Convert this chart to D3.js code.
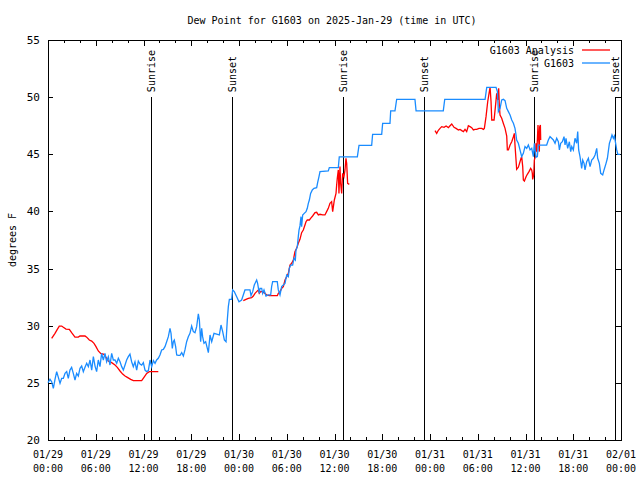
<!DOCTYPE html>
<html><head><meta charset="utf-8">
<script src="https://cdn.jsdelivr.net/npm/d3@7"></script>
<style>
body{margin:0;background:#fff}
svg text{font-family:"DejaVu Sans Mono","Liberation Mono",monospace;font-size:10px;fill:#000}
</style>
</head><body>
<svg id="chart" width="640" height="480"></svg>
<script>
// ---- data (hours after 2025-01-29 00:00 UTC) ----
const startUTC = Date.UTC(2025, 0, 29, 0, 0);
const chartTitle = "Dew Point for G1603 on 2025-Jan-29 (time in UTC)";
const yTitle = "degrees F";
const seriesNames = ["G1603 Analysis", "G1603"];
const yTickValues = [20, 25, 30, 35, 40, 45, 50, 55];

const obsHours = [0,0.25,0.46,0.67,0.88,1.09,1.30,1.51,1.72,1.93,2.14,2.35,2.55,2.76,2.97,3.18,3.39,3.60,3.81,4.02,4.23,4.44,4.65,4.86,5.07,5.28,5.49,5.70,5.91,6.11,6.32,6.53,6.74,6.95,7.16,7.37,7.58,7.79,8.00,8.21,8.42,8.63,8.84,9.05,9.26,9.47,9.68,9.88,10.09,10.30,10.51,10.72,10.93,11.14,11.35,11.56,11.77,11.98,12.19,12.40,12.61,12.82,13.03,13.24,13.45,13.65,
13.86,14.07,14.28,14.49,14.70,14.91,15.12,15.33,15.46,15.62,15.75,15.87,16.04,16.17,16.38,16.59,16.80,17.01,17.21,17.42,17.63,17.84,18.05,18.26,18.47,18.68,18.89,19.02,19.18,19.31,19.43,19.60,19.81,20.02,20.15,20.36,20.57,20.69,20.86,21.19,21.53,21.74,21.95,22.16,22.37,22.53,22.66,22.79,23.08,23.20,23.41,23.71,24.00,
24.33,24.54,24.75,25.17,25.38,25.51,25.72,25.92,26.22,26.34,26.55,26.64,26.85,26.97,27.14,27.39,27.68,27.98,28.10,28.23,28.52,28.81,28.94,29.15,29.36,29.57,29.78,29.99,30.20,30.32,30.49,30.74,30.91,31.08,31.16,31.33,31.45,31.54,31.66,31.79,31.87,32.00,32.20,32.42,32.58,32.71,32.84,33.00,33.21,33.42,33.76,33.88,34.05,34.18,
35.22,35.35,36.48,36.60,38.87,39.08,40.67,40.79,41.93,42.05,42.97,43.06,43.60,43.81,46.11,46.25,49.67,49.85,54.92,55.13,56.30,56.47,56.59,56.80,
57.01,57.22,57.43,57.64,57.85,58.06,58.27,58.48,58.68,58.81,58.89,59.10,59.31,59.52,59.73,59.94,60.15,60.36,60.57,60.78,60.99,61.11,61.32,61.49,61.62,61.83,62.25,62.66,62.87,63.08,63.29,63.50,63.71,63.92,64.13,64.26,64.42,64.63,64.84,64.97,65.09,65.30,65.51,65.68,65.81,66.01,66.22,66.43,66.56,66.68,66.85,67.06,67.19,67.36,67.48,67.69,67.90,68.11,68.32,68.53,68.74,68.95,69.07,69.28,69.45,69.70,69.87,70.12,70.29,70.54,70.75,70.87,71.04,71.17,71.29,71.46,71.60,71.90];
const obsValues = [25.02,25.31,25.10,24.52,25.31,25.98,25.48,24.96,25.40,25.40,25.83,25.98,25.40,26.12,26.36,25.83,25.25,25.83,25.60,26.27,26.47,25.98,26.36,26.71,26.42,27.00,26.12,27.29,26.47,25.98,27.00,26.42,27.58,27.00,27.58,26.85,27.29,26.56,27.58,27.00,27.00,26.71,27.15,26.85,26.42,26.12,26.56,27.00,27.29,27.52,26.85,26.42,26.85,26.12,26.91,26.65,26.56,26.77,26.12,25.98,26.07,27.00,26.42,26.94,26.71,27.00,
27.15,27.44,27.88,27.93,28.17,28.60,29.04,29.77,29.33,28.02,28.60,28.75,28.17,27.44,27.41,27.41,27.64,27.35,27.88,28.60,29.04,29.33,29.97,29.48,29.39,29.92,31.03,30.50,28.60,29.77,29.04,28.46,28.60,28.02,27.64,29.19,28.60,28.90,29.33,29.27,29.19,30.06,29.48,28.75,28.60,30.50,31.67,32.31,32.31,33.13,32.98,32.54,32.10,
32.25,32.69,33.13,33.13,33.13,32.63,32.98,33.56,34.00,33.71,32.83,33.27,33.27,32.83,33.13,32.60,32.69,32.69,33.42,33.85,33.85,33.85,33.13,32.69,33.42,33.56,33.70,34.44,34.29,35.02,35.31,35.31,35.90,35.75,36.62,36.92,37.79,38.37,38.73,39.54,38.67,39.69,39.83,39.98,40.27,40.71,41.00,41.58,41.88,42.02,42.08,42.52,43.04,43.48,
43.54,43.83,43.83,44.77,44.77,45.78,45.78,46.75,46.75,47.70,47.70,48.80,48.80,49.80,49.80,48.80,48.80,49.80,49.80,50.86,50.86,50.48,48.73,49.00,
49.75,49.81,49.69,49.02,48.73,48.44,48.00,47.71,47.27,46.69,46.25,45.96,45.38,44.79,45.08,45.67,45.52,45.81,45.38,45.52,44.79,45.96,44.73,44.79,45.81,45.81,45.81,45.81,46.25,46.54,46.40,46.25,45.96,46.40,46.10,45.38,45.96,46.10,46.54,45.81,46.40,45.52,46.10,45.23,45.67,45.38,46.40,45.96,46.98,45.38,44.79,43.77,44.50,44.21,43.63,44.35,44.65,43.92,44.50,44.65,44.94,45.52,44.65,44.21,43.33,43.19,43.63,44.21,44.65,45.96,46.40,46.69,46.40,46.60,46.10,45.38,45.00,45.00];

const anaHours = [0.46,0.88,1.17,1.42,1.72,1.93,2.26,2.68,2.97,3.39,3.81,4.02,4.65,4.86,5.19,5.49,5.78,6.03,6.32,6.62,7.04,7.37,7.58,8.00,8.42,8.71,9.05,9.38,9.68,9.97,10.39,10.72,11.77,12.06,12.40,12.73,13.86,
14.5,
24.54,24.88,25.17,25.59,25.80,26.01,26.22,26.43,26.55,26.72,26.97,27.26,27.47,27.81,28.10,28.52,28.81,28.94,29.15,29.36,29.57,29.78,29.99,30.20,30.41,30.62,30.83,31.03,31.24,31.45,31.66,31.87,32.08,32.29,32.42,32.58,32.84,33.00,33.25,33.55,33.76,33.97,34.18,34.51,34.80,35.01,35.22,35.43,35.64,35.77,35.98,36.19,36.27,36.35,36.48,36.56,36.69,36.77,36.90,37.02,37.19,37.32,37.44,37.53,37.65,37.86,
38.5,
48.63,48.84,49.05,49.26,49.47,49.77,50.02,50.31,50.52,50.73,51.02,51.27,51.57,51.78,51.99,52.20,52.40,52.61,52.82,53.03,53.24,53.45,53.66,53.87,54.16,54.50,54.71,54.83,55.04,55.25,55.42,55.55,55.67,55.76,56.05,56.22,56.38,56.51,56.63,56.72,56.80,
57.01,57.22,57.43,57.64,57.72,57.85,58.06,58.27,58.48,58.60,58.68,58.81,58.89,59.10,59.31,59.44,59.52,59.65,59.73,59.86,60.07,60.23,60.44,60.65,60.78,60.86,60.90,61.03,61.11,61.24,61.32,61.41,61.49,61.57,61.66,61.74,61.78,61.87,61.91];
const anaValues = [28.90,29.33,29.68,29.97,29.97,29.86,29.71,29.68,29.39,29.00,29.00,29.10,29.10,29.00,28.75,28.66,28.46,28.17,27.79,27.58,27.50,27.15,26.91,26.77,26.56,26.36,26.04,25.77,25.60,25.48,25.31,25.19,25.19,25.48,25.83,25.98,25.98,
null,
32.20,32.31,32.40,32.45,32.60,32.83,32.98,33.13,32.83,32.98,32.98,32.83,32.69,32.63,32.63,32.63,32.63,32.83,32.98,33.27,33.42,34.00,34.29,34.58,35.31,35.46,35.75,36.48,36.77,37.21,37.56,38.14,38.37,38.81,39.10,39.25,39.25,39.40,39.60,39.89,39.92,39.69,39.75,39.69,39.69,39.98,40.27,40.71,40.85,39.98,41.00,41.58,42.30,42.90,43.63,41.58,43.92,42.46,41.58,43.33,43.04,43.63,44.65,44.20,42.46,42.37,
null,
47.07,46.83,47.10,47.27,47.42,47.36,47.47,47.33,47.50,47.65,47.36,47.27,47.13,47.18,47.07,46.98,47.18,46.98,47.50,47.42,47.33,47.13,47.18,47.18,47.27,47.27,47.18,47.27,48.29,49.60,50.33,50.86,49.60,48.00,48.00,49.17,50.33,49.75,50.77,49.17,48.44,
48.15,47.70,47.27,46.60,45.38,45.38,45.81,46.10,46.54,46.83,45.81,44.50,43.68,43.86,44.35,44.65,44.79,43.92,42.75,42.66,43.04,43.25,43.48,43.77,43.63,43.33,42.80,43.19,44.50,44.79,45.96,45.23,46.25,47.56,46.25,45.23,47.40,47.56,46.25];

const sunLabels = ["Sunrise","Sunset","Sunrise","Sunset","Sunrise","Sunset"];
const sunHours = [13.00, 23.15, 37.10, 47.28, 61.10, 71.37];
const sunLineTop = 50;

// ---- layout ----
const W = 640, H = 480;
const m = {l: 48, r: 19, t: 40, b: 40};
const svg = d3.select("#chart");
const toDate = h => new Date(startUTC + h * 3600e3);

const x = d3.scaleUtc().domain([toDate(0), toDate(72)]).range([m.l, W - m.r]);
const y = d3.scaleLinear().domain([20, 55]).range([H - m.b, m.t]);

const obs = obsHours.map((h, i) => ({t: toDate(h), v: obsValues[i]}));
const ana = anaHours.map((h, i) => ({t: toDate(h), v: anaValues[i]}));

// axes (ticks inward, mirrored)
const fmtD = d3.utcFormat("%m/%d"), fmtT = d3.utcFormat("%H:%M");
const majorX = x.ticks(d3.utcHour.every(6));
const minorX = x.ticks(d3.utcHour.every(2));

const gB = svg.append("g").attr("transform", `translate(0,${H - m.b})`)
  .call(d3.axisBottom(x).tickValues(majorX).tickSize(-6).tickFormat(""));
svg.append("g").attr("transform", `translate(0,${H - m.b})`)
  .call(d3.axisBottom(x).tickValues(minorX).tickSize(-3).tickFormat(""));
svg.append("g").attr("transform", `translate(0,${m.t})`)
  .call(d3.axisTop(x).tickValues(majorX).tickSize(-6).tickFormat(""));
svg.append("g").attr("transform", `translate(0,${m.t})`)
  .call(d3.axisTop(x).tickValues(minorX).tickSize(-3).tickFormat(""));
const gL = svg.append("g").attr("transform", `translate(${m.l},0)`)
  .call(d3.axisLeft(y).tickValues(yTickValues).tickSize(-5).tickPadding(8));
svg.append("g").attr("transform", `translate(${W - m.r},0)`)
  .call(d3.axisRight(y).tickValues(yTickValues).tickSize(-5).tickFormat(""));

svg.selectAll(".domain").remove();
svg.selectAll(".tick line").attr("stroke", "#000").attr("shape-rendering", "crispEdges");
gL.selectAll(".tick text").attr("font-size", null).attr("font-family", null).style("font-size", "11px");

// x tick labels, two lines
const xl = svg.append("g");
majorX.forEach(d => {
  const t = xl.append("text").attr("x", x(d)).attr("y", H - m.b + 18).attr("text-anchor", "middle");
  t.append("tspan").attr("x", x(d)).text(fmtD(d));
  t.append("tspan").attr("x", x(d)).attr("dy", 14).text(fmtT(d));
});

// frame
svg.append("rect").attr("x", m.l).attr("y", m.t)
  .attr("width", W - m.l - m.r).attr("height", H - m.t - m.b)
  .attr("fill", "none").attr("stroke", "#000").attr("shape-rendering", "crispEdges");

// sunrise/sunset lines
sunHours.forEach((h, i) => {
  const xx = x(toDate(h));
  svg.append("line").attr("x1", xx).attr("x2", xx).attr("y1", y(sunLineTop)).attr("y2", y(20))
    .attr("stroke", "#000").attr("shape-rendering", "crispEdges");
  svg.append("text").attr("transform", `translate(${xx},${y(sunLineTop) - 5}) rotate(-90)`)
    .attr("text-anchor", "start").attr("dy", "0.35em").text(sunLabels[i]);
});

// data lines
const line = d3.line().defined(d => d.v != null).x(d => x(d.t)).y(d => y(d.v));
svg.append("path").datum(ana).attr("d", line).attr("fill", "none").attr("stroke", "#ff0000").attr("stroke-width", 1.3);
svg.append("path").datum(obs).attr("d", line).attr("fill", "none").attr("stroke", "#1a8cff").attr("stroke-width", 1.3);

// legend
const legColors = ["#ff0000", "#1a8cff"];
seriesNames.forEach((n, i) => {
  const ly = 50 + i * 13;
  svg.append("text").attr("x", 574).attr("y", ly).attr("dy", "0.35em").attr("text-anchor", "end").text(n);
  svg.append("line").attr("x1", 582).attr("x2", 610).attr("y1", ly).attr("y2", ly)
    .attr("stroke", legColors[i]).attr("stroke-width", 1.3);
});

// titles
svg.append("text").attr("x", 332).attr("y", 20).attr("dy", "0.35em").attr("text-anchor", "middle").text(chartTitle);
svg.append("text").attr("transform", `translate(12,240) rotate(-90)`).attr("dy", "0.35em")
  .attr("text-anchor", "middle").text(yTitle);
</script>
</body></html>
